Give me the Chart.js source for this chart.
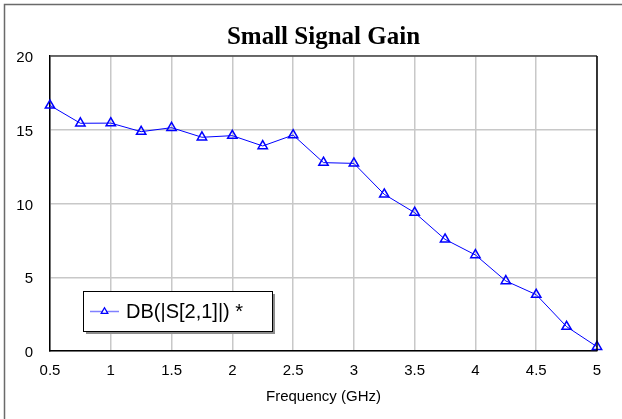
<!DOCTYPE html>
<html>
<head>
<meta charset="utf-8">
<script src="https://cdn.jsdelivr.net/npm/chart.js@4.4.1/dist/chart.umd.min.js"></script>
<style>
  html, body { margin: 0; padding: 0; background: #fff; }
  #wrap { width: 622px; height: 419px; position: relative; }
</style>
</head>
<body>
<div id="wrap"><canvas id="gainChart" width="622" height="419"></canvas></div>
<script>
// frequency points (GHz)
const freq = [0.5, 0.75, 1, 1.25, 1.5, 1.75, 2, 2.25, 2.5, 2.75, 3, 3.25, 3.5, 3.75, 4, 4.25, 4.5, 4.75, 5];
// DB(|S[2,1]|)
const gain = [16.65, 15.44, 15.45, 14.87, 15.14, 14.49, 14.6, 13.9, 14.64, 12.77, 12.72, 10.62, 9.38, 7.57, 6.51, 4.75, 3.82, 1.65, 0.29];

const xTicks = [0.5, 1, 1.5, 2, 2.5, 3, 3.5, 4, 4.5, 5];
const yTicks = [0, 5, 10, 15, 20];

const seriesLabel = "DB(|S[2,1]|) *";
const chartTitle = "Small Signal Gain";
const xTitle = "Frequency (GHz)";

const SANS = '"Liberation Sans", Arial, sans-serif';

/*-----------------------------------
  outer frame, title, plot frame, legend box
-----------------------------------*/
const decor = {
    id: "decor",
    beforeDraw(chart) {
        const ctx = chart.ctx;
        const a = chart.chartArea;
        ctx.save();
        ctx.strokeStyle = "#6a6a6a";
        ctx.lineWidth = 1.5;
        ctx.beginPath();
        ctx.moveTo(4.5, 419);
        ctx.lineTo(4.5, 4.5);
        ctx.lineTo(622, 4.5);
        ctx.stroke();

        // title centred over the plot area
        ctx.fillStyle = "#000";
        ctx.font = 'bold 25px "Liberation Serif", "Times New Roman", serif';
        ctx.textAlign = "center";
        ctx.textBaseline = "alphabetic";
        ctx.fillText(chartTitle, (a.left + a.right) / 2, 44);
        ctx.restore();
    },
    afterDatasetsDraw(chart) {
        const ctx = chart.ctx;
        const a = chart.chartArea;
        ctx.save();
        ctx.lineWidth = 1.5;
        ctx.strokeStyle = "#444";
        ctx.beginPath();
        ctx.moveTo(a.left, a.top);
        ctx.lineTo(a.right, a.top);
        ctx.stroke();
        ctx.strokeStyle = "#000";
        ctx.beginPath();
        ctx.moveTo(a.right, a.top);
        ctx.lineTo(a.right, a.bottom);
        ctx.stroke();

        // legend
        const ds = chart.data.datasets[0];
        const bx = 83, by = 291, bw = 189, bh = 40;
        ctx.fillStyle = "#8c8c8c";
        ctx.fillRect(bx + 3, by + 3, bw, bh);
        ctx.fillStyle = "#fff";
        ctx.fillRect(bx, by, bw, bh);
        ctx.strokeStyle = "#000";
        ctx.lineWidth = 1;
        ctx.strokeRect(bx + 0.5, by + 0.5, bw, bh);

        const ly = by + bh / 2 + 0.5;
        ctx.strokeStyle = "#8080ff";
        ctx.lineWidth = 1.5;
        ctx.beginPath();
        ctx.moveTo(90, ly);
        ctx.lineTo(119, ly);
        ctx.stroke();
        ctx.strokeStyle = ds.borderColor;
        ctx.lineWidth = 1.3;
        Chart.helpers.drawPoint(ctx, { pointStyle: "triangle", radius: 3.8, rotation: 0, borderWidth: 1.3 }, 104.5, ly);

        ctx.fillStyle = "#000";
        ctx.font = "20px " + SANS;
        ctx.textBaseline = "middle";
        ctx.textAlign = "left";
        ctx.fillText(ds.label, 126, ly + 1);
        ctx.restore();
    }
};

new Chart(document.getElementById("gainChart"), {
    type: "line",
    data: {
        datasets: [
            {
                label: seriesLabel,
                data: freq.map((f, i) => ({ x: f, y: gain[i] })),
                borderColor: "#0000ff",
                borderWidth: 1,
                backgroundColor: "rgba(255,255,255,0)",
                pointStyle: "triangle",
                pointRadius: 5.4,
                pointBorderWidth: 1.5,
                pointBorderColor: "#0000ff",
                pointBackgroundColor: "rgba(255,255,255,0)",
                tension: 0,
                clip: false
            }
        ]
    },
    options: {
        responsive: false,
        animation: false,
        devicePixelRatio: 1,
        layout: {
            padding: { left: 0, right: 25, top: 56, bottom: 0 }
        },
        plugins: {
            legend: { display: false },
            tooltip: { enabled: false },
            title: { display: false }
        },
        scales: {
            x: {
                type: "linear",
                min: 0.5,
                max: 5,
                afterBuildTicks: s => { s.ticks = xTicks.map(v => ({ value: v })); },
                afterFit: s => { s.height = 68; },
                ticks: {
                    color: "#000",
                    font: { family: SANS, size: 15 },
                    padding: 11,
                    maxRotation: 0,
                    callback: v => String(v)
                },
                grid: { color: "#c8c8c8", lineWidth: 1.5, drawTicks: false },
                border: { display: true, color: "#000", width: 1.5 },
                title: {
                    display: true,
                    text: xTitle,
                    color: "#000",
                    font: { family: SANS, size: 15 },
                    padding: { top: 0, bottom: 13 }
                }
            },
            y: {
                min: 0,
                max: 20,
                afterBuildTicks: s => { s.ticks = yTicks.map(v => ({ value: v })); },
                afterFit: s => { s.width = 50; },
                ticks: {
                    color: "#000",
                    font: { family: SANS, size: 15 },
                    padding: 17,
                    labelOffset: 2,
                    callback: v => String(v)
                },
                grid: { color: "#c8c8c8", lineWidth: 1.5, drawTicks: false },
                border: { display: true, color: "#000", width: 1.5 }
            }
        }
    },
    plugins: [decor]
});
</script>
</body>
</html>
